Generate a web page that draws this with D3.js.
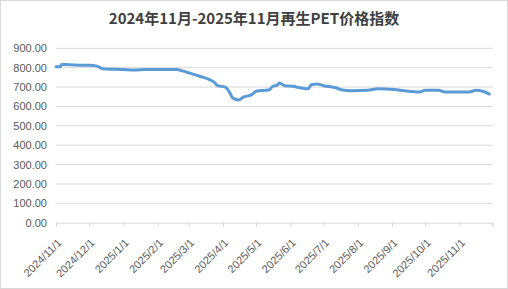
<!DOCTYPE html>
<html>
<head>
<meta charset="utf-8">
<script src="https://cdn.jsdelivr.net/npm/d3@7"></script>
<style>
  body { margin: 0; background: #fff; }
  svg { display: block; }
</style>
</head>
<body>
<script>
// data
const dates = ["2024-11-01","2024-11-05","2024-11-06","2024-11-13","2024-11-22","2024-12-01","2024-12-08",
  "2024-12-13","2024-12-20","2024-12-31","2025-01-10","2025-01-21","2025-02-03","2025-02-18","2025-02-24",
  "2025-03-02","2025-03-11","2025-03-20","2025-03-25","2025-03-27","2025-04-03","2025-04-07","2025-04-10",
  "2025-04-15","2025-04-19","2025-04-27","2025-05-01","2025-05-13","2025-05-16","2025-05-20","2025-05-22",
  "2025-05-27","2025-06-03","2025-06-11","2025-06-17","2025-06-20","2025-06-25","2025-07-01","2025-07-13",
  "2025-07-17","2025-07-26","2025-08-10","2025-08-19","2025-09-03","2025-09-12","2025-09-26","2025-10-01",
  "2025-10-13","2025-10-19","2025-11-09","2025-11-16","2025-11-22","2025-11-28"];
const values = [805,805,817,815,813,812,808,
  795,792,791,788,790,791,790,782,
  772,756,738,720,707,700,673,643,
  633,647,661,678,686,704,709,721,
  707,704,695,691,712,716,707,695,
  686,681,683,691,688,681,674,683,
  683,674,674,683,678,664];
const tickLabels = ["2024/11/1","2024/12/1","2025/1/1","2025/2/1","2025/3/1","2025/4/1","2025/5/1",
  "2025/6/1","2025/7/1","2025/8/1","2025/9/1","2025/10/1","2025/11/1"];
const yTicks = [0,100,200,300,400,500,600,700,800,900];
const title = "2024年11月-2025年11月再生PET价格指数";

let margin = {top: 48.3, left: 56, bottom: 66.3, right: 15.3},
    W = 508, H = 289,
    width = W - margin.left - margin.right,
    height = H - margin.top - margin.bottom;

const parse = d3.timeParse("%Y-%m-%d");
const series = dates.map((d, i) => ({date: parse(d), value: values[i]}));

const svg = d3.select("body").append("svg")
  .attr("width", W).attr("height", H);

// chart border
svg.append("rect")
  .attr("x", 0.5).attr("y", 0.5)
  .attr("width", W - 1).attr("height", H - 1)
  .attr("fill", "#fff").attr("stroke", "#d9d9d9");

svg.append("text")
  .attr("x", W / 2).attr("y", 24)
  .attr("text-anchor", "middle")
  .style("font-family", "'Noto Sans CJK SC', sans-serif")
  .style("font-size", "15px").style("font-weight", "bold")
  .attr("fill", "#404040")
  .text(title);

const g = svg.append("g")
  .attr("transform", "translate(" + margin.left + "," + margin.top + ")");

const x = d3.scaleTime()
  .domain([parse("2024-11-01"), parse("2025-12-01")])
  .range([0, width]);

const y = d3.scaleLinear()
  .domain([0, 900])
  .range([height, 0]);

// gridlines
g.selectAll(".grid").data(yTicks.slice(1)).enter().append("line")
  .attr("x1", 0).attr("x2", width)
  .attr("y1", d => y(d)).attr("y2", d => y(d))
  .attr("stroke", "#d9d9d9").attr("stroke-width", 1);

// y labels
const yAxis = g.append("g")
  .call(d3.axisLeft(y).tickValues(yTicks).tickFormat(d3.format(".2f")).tickSize(0).tickPadding(9));
yAxis.select(".domain").remove();
yAxis.selectAll("text")
  .style("font-family", "'Liberation Sans', Arial, sans-serif")
  .style("font-size", "11px")
  .attr("fill", "#595959");

// x axis
const tickDates = d3.range(0, 14).map(i => new Date(2024, 10 + i, 1));
const xAxis = g.append("g")
  .attr("transform", "translate(0," + height + ")")
  .call(d3.axisBottom(x).tickValues(tickDates).tickSize(4)
    .tickFormat((d, i) => tickLabels[i] || ""));
xAxis.select(".domain").attr("stroke", "#d9d9d9");
xAxis.selectAll("line").attr("stroke", "#d9d9d9");
xAxis.selectAll("text")
  .style("font-family", "'Liberation Sans', Arial, sans-serif")
  .style("font-size", "11px")
  .attr("fill", "#595959")
  .attr("text-anchor", "end")
  .attr("y", 0)
  .attr("dy", "0.35em")
  .attr("transform", "translate(3,18) rotate(-45)");

// line
const line = d3.line()
  .x(d => x(d.date))
  .y(d => y(d.value))
  .curve(d3.curveMonotoneX);

g.append("path")
  .datum(series)
  .attr("fill", "none")
  .attr("stroke", "#5b9bd5")
  .attr("stroke-width", 3)
  .attr("stroke-linejoin", "round")
  .attr("stroke-linecap", "round")
  .attr("d", line);
</script>
</body>
</html>
